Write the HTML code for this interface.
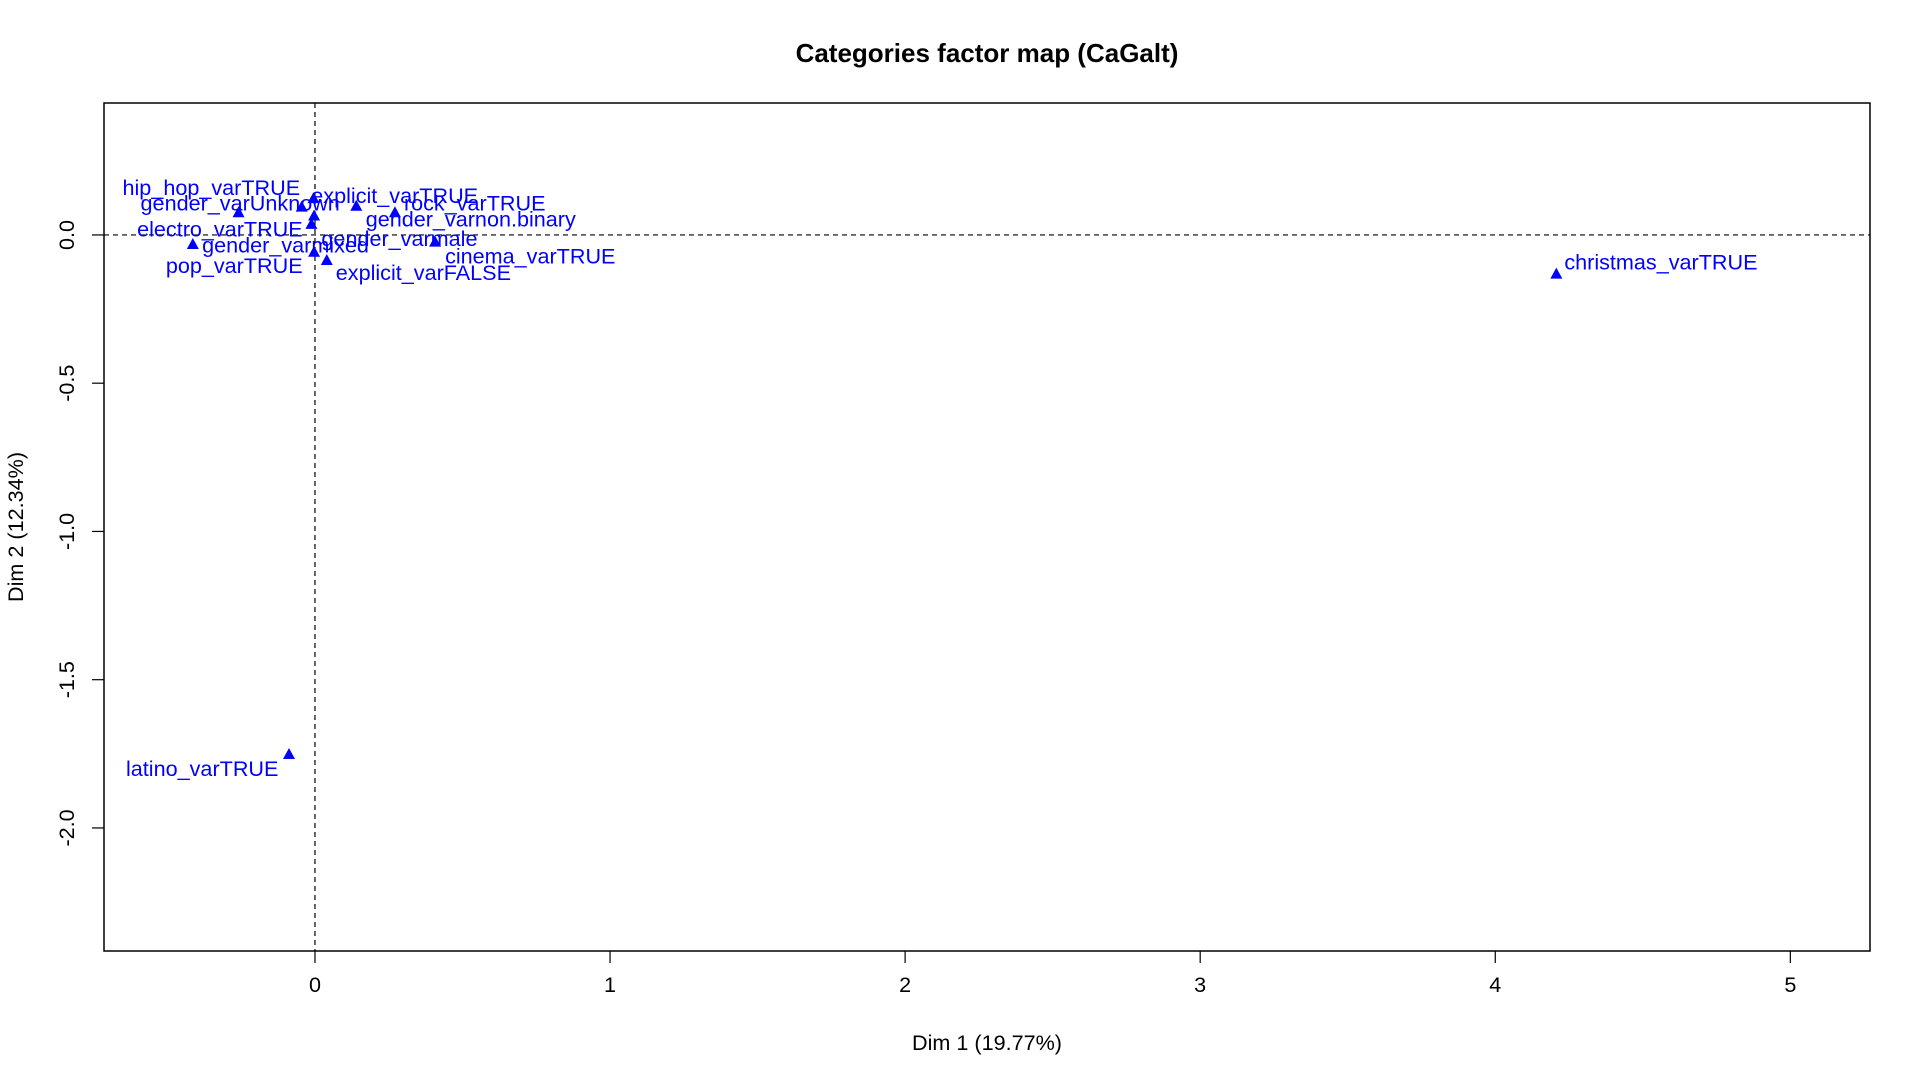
<!DOCTYPE html>
<html><head><meta charset="utf-8"><style>
html,body{margin:0;padding:0;background:#fff;}
svg{display:block;font-family:"Liberation Sans",Arial,sans-serif;}
</style></head><body>
<svg id="chart" width="1920" height="1080" viewBox="0 0 1920 1080" xmlns="http://www.w3.org/2000/svg">
<rect width="1920" height="1080" fill="#fff"/>
<text x="987" y="62" font-size="26" font-weight="bold" text-anchor="middle">Categories factor map (CaGalt)</text>
<text x="987" y="1050" font-size="21.6" text-anchor="middle">Dim 1 (19.77%)</text>
<text x="0" y="0" font-size="21.6" text-anchor="middle" transform="translate(23,527) rotate(-90)">Dim 2 (12.34%)</text>
<g id="plot"></g>
</svg>
<script>
const categories=["hip_hop_varTRUE","gender_varUnknown","explicit_varTRUE","rock_varTRUE","gender_varnon.binary","electro_varTRUE","gender_varmale","cinema_varTRUE","pop_varTRUE","gender_varmixed","explicit_varFALSE","christmas_varTRUE","latino_varTRUE"];
const dim1Values=[-0.005,-0.259,0.140,0.271,-0.045,-0.003,-0.012,0.407,-0.414,-0.003,0.040,4.207,-0.088];
const dim2Values=[0.121,0.073,0.095,0.073,0.092,0.062,0.034,-0.026,-0.034,-0.060,-0.088,-0.134,-1.754];
const labelOffsets=[[-191,-4],[-98,-3],[-45,-4],[9,-3],[64,19],[-177,20],[10,21],[10,21],[-27,28],[-112,0],[9,19],[8,-5],[-163,21]];
const xTicks=[0,1,2,3,4,5];
const yTicks=[0.0,-0.5,-1.0,-1.5,-2.0];
const yTickLabels=["0.0","-0.5","-1.0","-1.5","-2.0"];

const L=104,R=1870,T=103,B=951;
const xMin=-0.715,xMax=5.27,yMin=-2.415,yMax=0.445;
const sx=v=>L+(v-xMin)/(xMax-xMin)*(R-L);
const sy=v=>B-(v-yMin)/(yMax-yMin)*(B-T);
const NS="http://www.w3.org/2000/svg";
const g=document.getElementById('plot');
function mk(tag,attrs){const e=document.createElementNS(NS,tag);for(const k in attrs)e.setAttribute(k,attrs[k]);g.appendChild(e);return e;}

let e=mk('line',{x1:L,x2:R,y1:sy(0),y2:sy(0),stroke:'#000','stroke-width':1.2,'stroke-dasharray':'5,4'});


e=mk('line',{x1:sx(0),x2:sx(0),y1:T,y2:B,stroke:'#000','stroke-width':1.2,'stroke-dasharray':'5,4'});


e=mk('rect',{x:L,y:T,width:R-L,height:B-T,fill:'none',stroke:'#000','stroke-width':1.5});



xTicks.forEach(t=>{
  let l=mk('line',{x1:sx(t),x2:sx(t),y1:B,y2:B+12,stroke:'#000','stroke-width':1.2});
  
  
  let tx=mk('text',{x:sx(t),y:B+41,'font-size':21.6,'text-anchor':'middle'});
  tx.textContent=String(t);
  
  
});
yTicks.forEach((t,i)=>{
  let l=mk('line',{x1:L-12,x2:L,y1:sy(t),y2:sy(t),stroke:'#000','stroke-width':1.2});
  
  
  let tx=mk('text',{x:0,y:0,'font-size':21.6,'text-anchor':'middle',transform:`translate(74,${sy(t)}) rotate(-90)`});
  tx.textContent=yTickLabels[i];
  
  
});
categories.forEach((c,i)=>{
  const px=sx(dim1Values[i]),py=sy(dim2Values[i]);
  let p=mk('polygon',{points:`${px},${py-7} ${px-6},${py+4} ${px+6},${py+4}`,fill:'#0000ff'});
  
  
  let t=mk('text',{x:px+labelOffsets[i][0],y:py+labelOffsets[i][1],'font-size':21.6,fill:'#0000ff'});
  t.textContent=c;
  
  
});
</script>
</body></html>
